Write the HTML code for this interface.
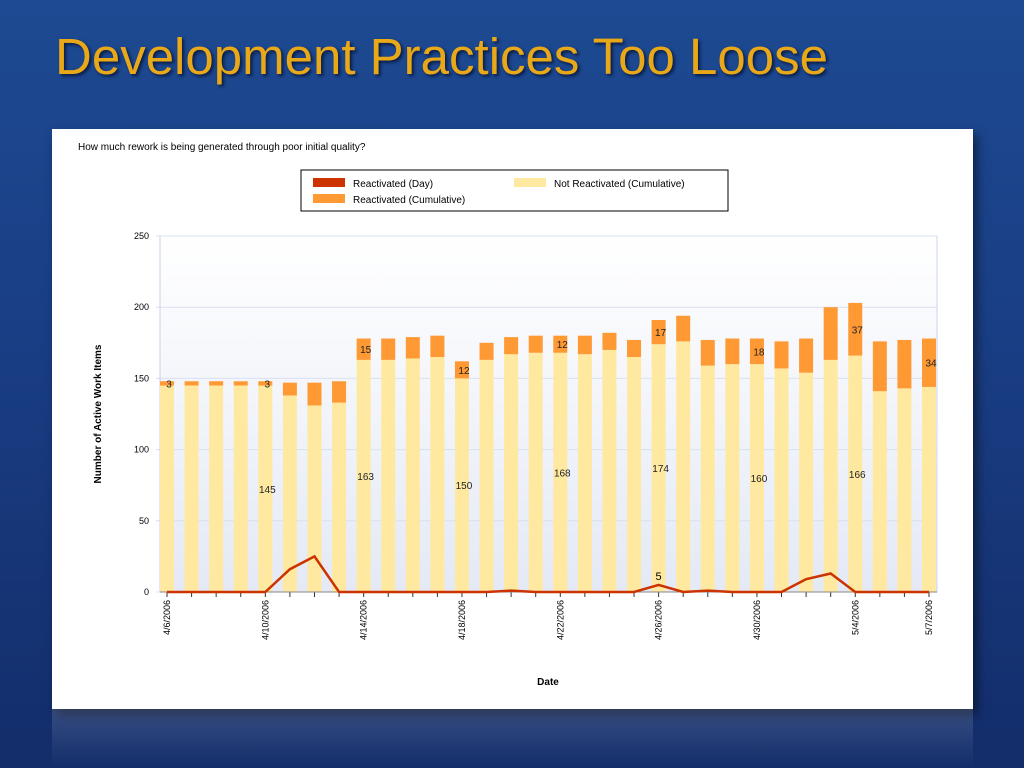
<!DOCTYPE html>
<html><head><meta charset="utf-8"><style>
html,body{margin:0;padding:0;width:1024px;height:768px;overflow:hidden;font-family:"Liberation Sans",sans-serif}
body{background:linear-gradient(180deg,#1d4a92 0%,#1a3f86 40%,#132d6a 100%)}
#title{position:absolute;left:55px;top:27px;font-size:51px;color:#e8a818;text-shadow:2px 2px 3px #0a1a40}
#panel{position:absolute;left:52px;top:129px;width:921px;height:580px;background:#fff;box-shadow:4px 6px 10px rgba(0,0,0,.5)}
#refl{position:absolute;left:52px;top:709px;width:921px;height:59px;background:linear-gradient(180deg,rgba(255,255,255,.15),rgba(255,255,255,0))}
</style></head><body>
<div id="title">Development Practices Too Loose</div>
<div id="panel"></div>
<div id="refl"></div>
<svg id="chart" width="1024" height="768" style="position:absolute;left:0;top:0">
<defs><linearGradient id="pbg" x1="0" y1="0" x2="0" y2="1"><stop offset="0" stop-color="#ffffff"/><stop offset="1" stop-color="#e4e9f5"/></linearGradient></defs>
<text x="78" y="150" font-size="10" fill="#000" font-family="Liberation Sans,sans-serif">How much rework is being generated through poor initial quality?</text>
<g>
<rect x="301" y="170" width="427" height="41" fill="#fff" stroke="#000" stroke-width="1"/>
<rect x="313" y="178" width="32" height="9" fill="#cc3300"/><text x="353" y="187" font-size="10">Reactivated (Day)</text>
<rect x="313" y="194" width="32" height="9" fill="#ff9933"/><text x="353" y="203" font-size="10">Reactivated (Cumulative)</text>
<rect x="514" y="178" width="32" height="9" fill="#ffe9a0"/><text x="554" y="187" font-size="10">Not Reactivated (Cumulative)</text>
</g>
<g id="plot"></g>
<text transform="translate(101,414) rotate(-90)" text-anchor="middle" font-size="10" font-weight="bold">Number of Active Work Items</text>
<text x="548" y="685" text-anchor="middle" font-size="10" font-weight="bold">Date</text>
</svg>
<script>
const notReact=[145,145,145,145,145,138,131,133,163,163,164,165,150,163,167,168,168,167,170,165,174,176,159,160,160,157,154,163,166,141,143,144];
const reactCum=[3,3,3,3,3,9,16,15,15,15,15,15,12,12,12,12,12,13,12,12,17,18,18,18,18,19,24,37,37,35,34,34];
const reactDay=[0,0,0,0,0,16,25,0,0,0,0,0,0,0,1,0,0,0,0,0,5,0,1,0,0,0,9,13,0,0,0,0];
const dateLabels=["4/6/2006","4/10/2006","4/14/2006","4/18/2006","4/22/2006","4/26/2006","4/30/2006","5/4/2006","5/7/2006"];
const dateIdx=[0,4,8,12,16,20,24,28,31];
const yTicks=[0,50,100,150,200,250];
const NS="http://www.w3.org/2000/svg";
const L=160,R=937,T=236,B=592,x0=167,x1=929;
const X=i=>x0+i*(x1-x0)/(notReact.length-1);
const Y=v=>B-v*(B-T)/250;
const g=document.getElementById('plot');
function el(t,a){const e=document.createElementNS(NS,t);for(const k in a)e.setAttribute(k,a[k]);g.appendChild(e);return e;}
const bg=el('rect',{x:L,y:T,width:R-L,height:B-T,fill:'url(#pbg)',stroke:'#cdd6ea'});


yTicks.forEach(v=>{
 const ln=el('line',{x1:L-4,x2:R,y1:Y(v),y2:Y(v),stroke:'#d8e0f0'});
 
 
 const t=el('text',{x:L-11,y:Y(v)+3,'text-anchor':'end','font-size':9});t.textContent=v;
 
 
});
el('line',{x1:L,x2:L,y1:T,y2:B,stroke:'#c8d2e8'});
const bw=14;
notReact.forEach((v,i)=>{
 const x=X(i);
 const b1=el('rect',{x:x-bw/2,y:Y(v),width:bw,height:B-Y(v),fill:'#ffe9a0'});
 
 
 const b2=el('rect',{x:x-bw/2,y:Y(v+reactCum[i]),width:bw,height:Y(v)-Y(v+reactCum[i]),fill:'#ff9933'});
 
 
 const tk=el('line',{x1:x,x2:x,y1:B,y2:B+5,stroke:'#333'});
 
 
});
el('line',{x1:L,x2:R,y1:B,y2:B,stroke:'#888'});
dateIdx.forEach((i,k)=>{
 const x=X(i);
 const t=el('text',{transform:`translate(${x+3},${B+8}) rotate(-90)`,'text-anchor':'end','font-size':9});t.textContent=dateLabels[k];
 
 
 const t2=el('text',{x:x+2,y:(Y(notReact[i])+Y(notReact[i]+reactCum[i]))/2+4,'text-anchor':'middle','font-size':10,fill:'#222'});t2.textContent=reactCum[i];
 
 
 if(i!==31&&i!==0){
  const t3=el('text',{x:x+2,y:(B+Y(notReact[i]))/2+4,'text-anchor':'middle','font-size':10,fill:'#222'});t3.textContent=notReact[i];
  
  
 }
});
const pts=reactDay.map((v,i)=>X(i)+','+Y(v)).join(' ');
const pl=el('polyline',{points:pts,fill:'none',stroke:'#cc3300','stroke-width':2.5});


const mi=reactDay.indexOf(5);
if(mi>=0){const t=el('text',{x:X(mi),y:Y(5)-5,'text-anchor':'middle','font-size':11});t.textContent='5';
 
 }
</script>
</body></html>
